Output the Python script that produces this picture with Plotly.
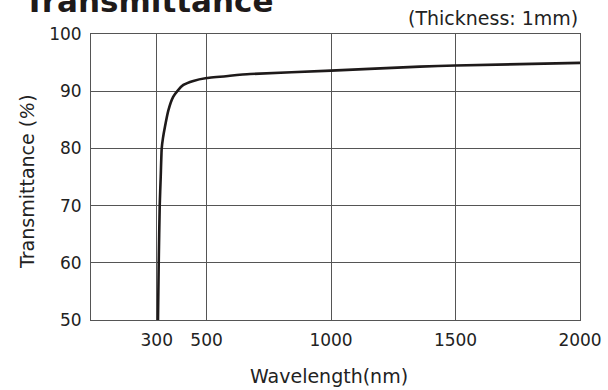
import plotly.graph_objects as go

wavelength = [305, 308, 312, 316, 320, 325, 333, 347, 366, 386, 407, 447, 501, 594, 675, 1000, 1357, 1500, 2000]
transmittance = [50, 60, 70, 75, 80, 81.8, 83.8, 86.7, 89.0, 90.2, 91.1, 91.8, 92.3, 92.7, 93.0, 93.6, 94.3, 94.5, 94.95]
x_ticks = [300, 500, 1000, 1500, 2000]
y_ticks = [50, 60, 70, 80, 90, 100]

W, H = 608, 390
L, R, T, B = 91, 28, 34, 70

fig = go.Figure()
fig.add_trace(go.Scatter(x=wavelength, y=transmittance, mode="lines",
                         line=dict(color="#1e1a1a", width=2.6, shape="spline", smoothing=0.5),
                         showlegend=False, hoverinfo="skip"))

axis_common = dict(showline=True, mirror=True, linecolor="#555", linewidth=1,
                   showgrid=True, gridcolor="#555", gridwidth=1, zeroline=False,
                   ticks="outside", ticklen=5, tickcolor="rgba(0,0,0,0)", automargin=False,
                   tickfont=dict(family="DejaVu Sans", size=17, color="#222"))

fig.update_xaxes(range=[36, 2000], tickvals=x_ticks, ticktext=[str(v) for v in x_ticks], **axis_common)
fig.update_yaxes(range=[50, 100], tickvals=y_ticks, ticktext=[str(v) for v in y_ticks], **axis_common)

pw = W - L - R
ph = H - T - B
fig.update_layout(
    width=W, height=H,
    margin=dict(l=L, r=R, t=T, b=B, pad=0),
    paper_bgcolor="white", plot_bgcolor="white",
    annotations=[
        dict(text="<b>Transmittance</b>", xref="paper", yref="paper",
             x=(22 - L) / pw, y=1 + (T - 13) / ph, xanchor="left", yanchor="bottom",
             yshift=-8, showarrow=False,
             font=dict(family="DejaVu Sans", size=31, color="#1e1a1a")),
        dict(text="(Thickness: 1mm)", xref="paper", yref="paper",
             x=(580 - L) / pw, y=1 + (T - 26) / ph, xanchor="right", yanchor="bottom",
             yshift=-5, showarrow=False,
             font=dict(family="DejaVu Sans", size=19, color="#222")),
        dict(text="Wavelength(nm)", xref="paper", yref="paper",
             x=(329 - L) / pw, y=-(376 - T - ph) / ph, xanchor="center", yanchor="middle",
             showarrow=False,
             font=dict(family="DejaVu Sans", size=19, color="#222")),
        dict(text="Transmittance (<i>%</i>)", xref="paper", yref="paper",
             x=(27 - L) / pw, y=1 - (182 - T) / ph, xanchor="center", yanchor="middle",
             textangle=-90, showarrow=False,
             font=dict(family="DejaVu Sans", size=19, color="#222")),
    ],
)

fig.write_html("out.html", config={"displayModeBar": False},
               post_script="document.body.style.margin='0px';document.body.style.overflow='hidden';")
